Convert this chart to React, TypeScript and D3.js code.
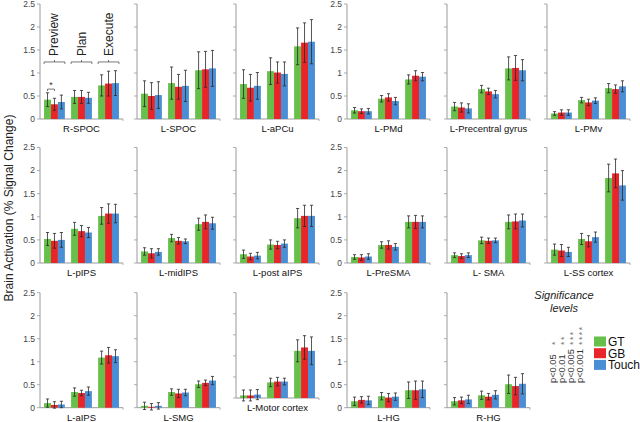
import * as d3 from 'd3'

const W = 640
const H = 422
const FONT = 'Liberation Sans, Arial, Helvetica, sans-serif'

const regions = ['R-SPOC', 'L-SPOC', 'L-aPCu', 'L-PMd', 'L-Precentral gyrus', 'L-PMv',
  'L-pIPS', 'L-midIPS', 'L-post aIPS', 'L-PreSMA', 'L- SMA', 'L-SS cortex',
  'L-aIPS', 'L-SMG', 'L-Motor cortex', 'L-HG', 'R-HG']
const phases = ['Preview', 'Plan', 'Execute']
const conditions = ['GT', 'GB', 'Touch']
const colors = ['#66c04a', '#e8262a', '#4a8fd6']
const yTicks = [0, 0.5, 1, 1.5, 2, 2.5]

// mean % signal change per region: [Preview, Plan, Execute]
const gtMean = [
  [0.42, 0.48, 0.73], [0.55, 0.78, 1.06], [0.76, 1.04, 1.58], [0.19, 0.44, 0.86],
  [0.27, 0.65, 1.10], [0.12, 0.41, 0.67], [0.52, 0.74, 1.02], [0.25, 0.54, 0.84],
  [0.19, 0.40, 0.97], [0.13, 0.39, 0.89], [0.17, 0.49, 0.89], [0.29, 0.52, 1.84],
  [0.10, 0.34, 1.09], [0.04, 0.34, 0.51], [0.06, 0.37, 1.12], [0.14, 0.25, 0.38],
  [0.14, 0.27, 0.51],
]
const gbMean = [
  [0.32, 0.48, 0.77], [0.50, 0.70, 1.08], [0.68, 1.01, 1.66], [0.17, 0.47, 0.94],
  [0.25, 0.60, 1.11], [0.14, 0.36, 0.65], [0.48, 0.69, 1.07], [0.21, 0.48, 0.89],
  [0.14, 0.39, 1.02], [0.12, 0.39, 0.89], [0.15, 0.48, 0.90], [0.27, 0.47, 1.94],
  [0.06, 0.32, 1.14], [0.02, 0.31, 0.54], [0.06, 0.39, 1.20], [0.17, 0.22, 0.38],
  [0.16, 0.24, 0.47],
]
const touchMean = [
  [0.37, 0.46, 0.78], [0.52, 0.72, 1.10], [0.72, 0.98, 1.68], [0.17, 0.39, 0.92],
  [0.23, 0.54, 1.06], [0.14, 0.40, 0.71], [0.50, 0.66, 1.07], [0.24, 0.47, 0.86],
  [0.16, 0.42, 1.02], [0.14, 0.35, 0.89], [0.17, 0.49, 0.92], [0.24, 0.56, 1.68],
  [0.07, 0.36, 1.12], [0.04, 0.33, 0.59], [0.08, 0.39, 1.12], [0.16, 0.24, 0.40],
  [0.18, 0.28, 0.52],
]
// error bar half-lengths
const gtErr = [
  [0.15, 0.14, 0.23], [0.28, 0.35, 0.40], [0.31, 0.29, 0.40], [0.06, 0.07, 0.10],
  [0.09, 0.08, 0.25], [0.04, 0.06, 0.10], [0.14, 0.14, 0.18], [0.08, 0.08, 0.13],
  [0.09, 0.10, 0.21], [0.05, 0.07, 0.13], [0.05, 0.07, 0.15], [0.12, 0.12, 0.30],
  [0.09, 0.09, 0.14], [0.08, 0.07, 0.07], [0.13, 0.10, 0.26], [0.09, 0.08, 0.18],
  [0.08, 0.09, 0.20],
]
const gbErr = [
  [0.13, 0.14, 0.27], [0.29, 0.27, 0.39], [0.29, 0.23, 0.43], [0.05, 0.08, 0.11],
  [0.10, 0.07, 0.27], [0.06, 0.07, 0.09], [0.16, 0.12, 0.21], [0.10, 0.07, 0.15],
  [0.07, 0.08, 0.23], [0.06, 0.09, 0.14], [0.05, 0.06, 0.16], [0.13, 0.12, 0.31],
  [0.07, 0.06, 0.17], [0.07, 0.09, 0.06], [0.13, 0.10, 0.28], [0.07, 0.09, 0.20],
  [0.07, 0.07, 0.19],
]
const touchErr = [
  [0.15, 0.12, 0.27], [0.29, 0.34, 0.39], [0.29, 0.26, 0.48], [0.06, 0.08, 0.09],
  [0.10, 0.08, 0.23], [0.06, 0.06, 0.12], [0.16, 0.11, 0.20], [0.07, 0.05, 0.13],
  [0.07, 0.08, 0.23], [0.06, 0.07, 0.13], [0.05, 0.05, 0.14], [0.10, 0.11, 0.32],
  [0.07, 0.09, 0.14], [0.07, 0.07, 0.09], [0.12, 0.08, 0.33], [0.09, 0.08, 0.18],
  [0.09, 0.09, 0.22],
]
const pLabels = ['p<0.05', 'p<0.01', 'p<0.005', 'p<0.001']
const starLabels = ['*', '**', '***', '****']

// layout
const colX = [40, 137, 236, 347, 447, 547]
const rowTop = [4, 147.5, 292.7]
const rowZero = [119, 263, 407.7]
const PW = 83
const labelCols = [0, 3]
// the motor cortex panel sits a little higher in the original figure
const zeroOverride: Record<string, number> = { 'L-Motor cortex': 398 }

const means = [gtMean, gbMean, touchMean]
const errs = [gtErr, gbErr, touchErr]

const xGroup = d3.scaleBand<string>().domain(phases).range([0, PW]).paddingInner(0.23).paddingOuter(0.15)
const xCond = d3.scaleBand<string>().domain(conditions).range([0, xGroup.bandwidth()])

function Panel({ idx }: { idx: number }) {
  const name = regions[idx]
  const row = Math.floor(idx / 6)
  const col = idx % 6
  const x0 = colX[col]
  const zero = zeroOverride[name] ?? rowZero[row]
  const y = d3.scaleLinear().domain([0, 2.5]).range([zero, rowTop[row]])
  const showLabels = labelCols.includes(col)
  const cap = 1.6
  return (
    <g>
      {/* y axis */}
      <line x1={x0} x2={x0} y1={y(2.5)} y2={y(0)} stroke="#9a9a9a" strokeWidth={1} />
      {yTicks.map(t => (
        <g key={t}>
          <line x1={x0 - 3} x2={x0} y1={y(t)} y2={y(t)} stroke="#9a9a9a" strokeWidth={0.8} />
          {showLabels && (
            <text x={x0 - 5} y={y(t)} dy="0.33em" textAnchor="end" fontSize={8.5} fill="#444">{t}</text>
          )}
        </g>
      ))}
      {/* x axis */}
      <line x1={x0} x2={x0 + PW} y1={y(0)} y2={y(0)} stroke="#9a9a9a" strokeWidth={1} />
      <line x1={x0 + PW} x2={x0 + PW} y1={y(0)} y2={y(0) + 2} stroke="#9a9a9a" strokeWidth={0.8} />
      {/* bars */}
      {phases.map((p, pi) => conditions.map((c, ci) => {
        const v = means[ci][idx][pi]
        const bx = x0 + (xGroup(p) ?? 0) + (xCond(c) ?? 0)
        return (
          <rect key={p + c} x={bx} width={xCond.bandwidth()} y={y(v)} height={y(0) - y(v)} fill={colors[ci]} />
        )
      }))}
      {/* error bars */}
      {phases.map((p, pi) => conditions.map((c, ci) => {
        const v = means[ci][idx][pi]
        const e = errs[ci][idx][pi]
        const cx = x0 + (xGroup(p) ?? 0) + (xCond(c) ?? 0) + xCond.bandwidth() / 2
        return (
          <g key={'e' + p + c} stroke="#2a2a2a" strokeWidth={0.8}>
            <line x1={cx} x2={cx} y1={y(v + e)} y2={y(v - e)} />
            <line x1={cx - cap} x2={cx + cap} y1={y(v + e)} y2={y(v + e)} />
            <line x1={cx - cap} x2={cx + cap} y1={y(v - e)} y2={y(v - e)} />
          </g>
        )
      }))}
      <text x={x0 + PW / 2} y={y(0) + 13} textAnchor="middle" fontSize={9.5} fill="#111">{name}</text>
      {idx === 0 && <PhaseNotes x0={x0} y={y} />}
    </g>
  )
}

function PhaseNotes({ x0, y }: { x0: number; y: d3.ScaleLinear<number, number> }) {
  const by = y(1.24)
  // significance bracket between GT and GB during preview
  const g0 = x0 + (xGroup(phases[0]) ?? 0)
  const c1 = g0 + (xCond('GT') ?? 0) + xCond.bandwidth() / 2
  const c2 = g0 + (xCond('GB') ?? 0) + xCond.bandwidth() / 2
  const sy = y(0.65)
  return (
    <g>
      {phases.map(p => {
        const gx = x0 + (xGroup(p) ?? 0)
        const gw = xGroup.bandwidth()
        const mid = gx + gw / 2
        return (
          <g key={p}>
            <path d={`M${gx},${by + 2}V${by}H${gx + gw}V${by + 2}M${mid},${by}V${by - 2}`}
              fill="none" stroke="#555" strokeWidth={0.8} />
            <text transform={`translate(${mid + 4},${by - 6}) rotate(-90)`} fontSize={12} fill="#222">{p}</text>
          </g>
        )
      })}
      <path d={`M${c1},${sy + 2}V${sy}H${c2}V${sy + 2}`} fill="none" stroke="#555" strokeWidth={0.8} />
      <text x={(c1 + c2) / 2} y={sy - 1} textAnchor="middle" fontSize={9} fill="#333">*</text>
    </g>
  )
}

function Legend() {
  const colPos = [553, 562, 571, 580]
  return (
    <g>
      <text x={564} y={299} textAnchor="middle" fontSize={11} fontStyle="italic" fill="#222">Significance</text>
      <text x={564} y={312} textAnchor="middle" fontSize={11} fontStyle="italic" fill="#222">levels</text>
      {pLabels.map((p, i) => (
        <g key={p}>
          <text transform={`translate(${colPos[i] + 2.5},383) rotate(-90)`} fontSize={9.3} fill="#333">{p}</text>
          <text transform={`translate(${colPos[i] + 5},345) rotate(-90)`} fontSize={8.5}
            letterSpacing={1.6} fill="#777">{starLabels[i]}</text>
        </g>
      ))}
      {conditions.map((c, i) => (
        <g key={c}>
          <rect x={594} y={336.5 + i * 11.7} width={12} height={10} fill={colors[i]} />
          <text x={608} y={346 + i * 11.7} fontSize={12} fill="#111">{c}</text>
        </g>
      ))}
    </g>
  )
}

export default function App() {
  return (
    <svg width={W} height={H} style={{ position: 'absolute', left: 0, top: 0, background: '#fff' }}
      fontFamily={FONT}>
      <rect width={W} height={H} fill="#fff" />
      <text transform="translate(13,208) rotate(-90)" textAnchor="middle" fontSize={12} fill="#222">
        Brain Activation (% Signal Change)
      </text>
      {regions.map((r, i) => <Panel key={r} idx={i} />)}
      <Legend />
    </svg>
  )
}
